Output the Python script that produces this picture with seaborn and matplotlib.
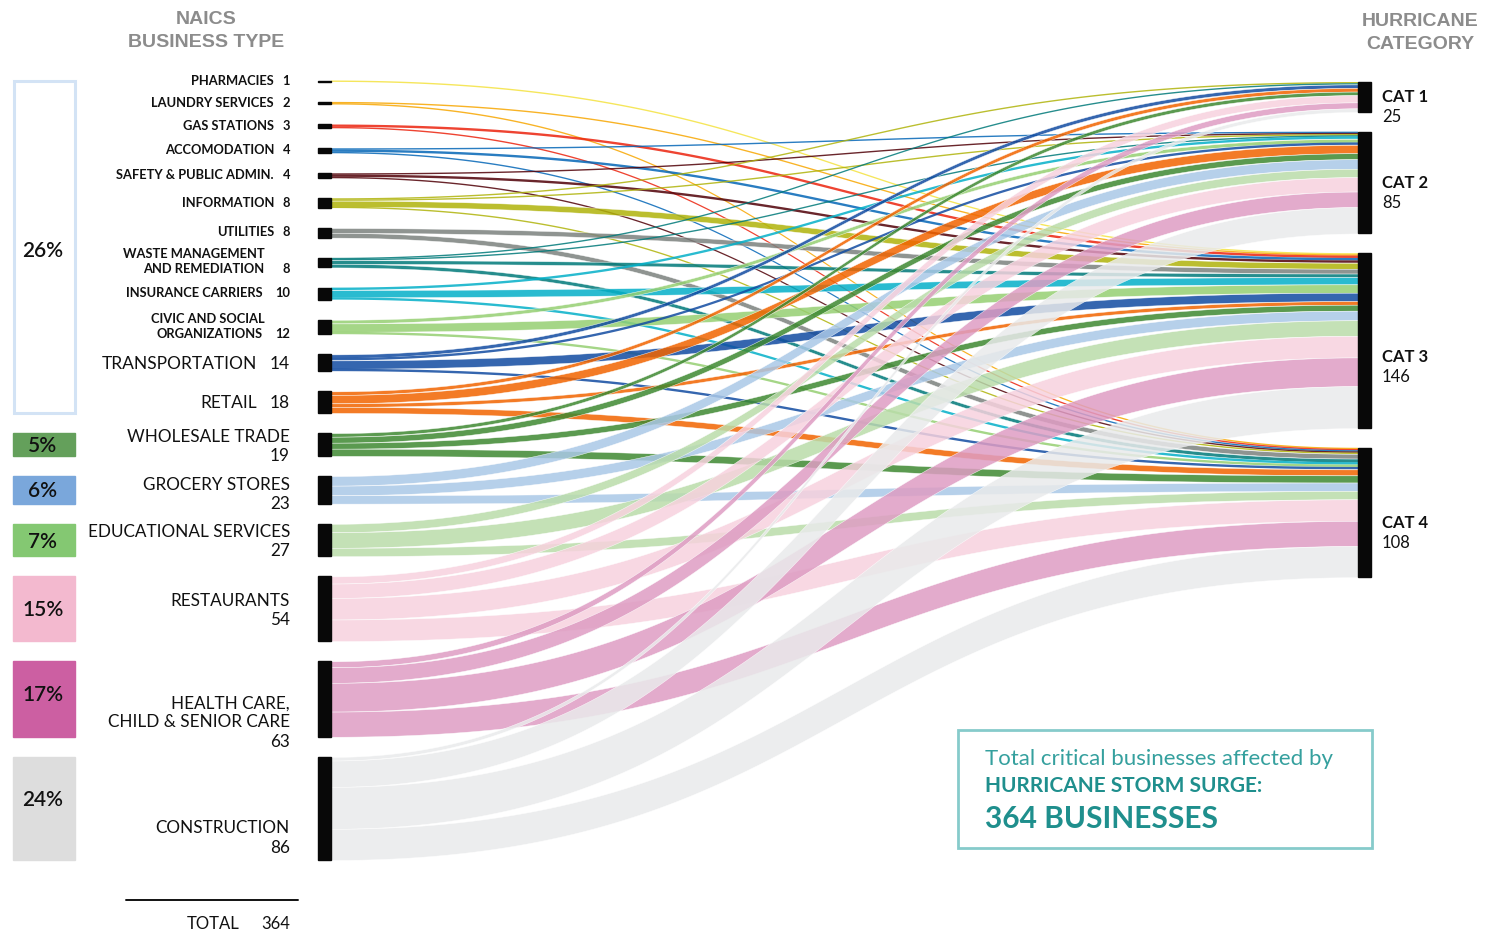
import numpy as np
import pandas as pd
import matplotlib
matplotlib.use("Agg")
import matplotlib.pyplot as plt
import seaborn as sns
from matplotlib.patches import Rectangle

# ---------------- data ----------------
business = ["PHARMACIES", "LAUNDRY SERVICES", "GAS STATIONS", "ACCOMODATION",
            "SAFETY & PUBLIC ADMIN.", "INFORMATION", "UTILITIES",
            "WASTE MANAGEMENT\nAND REMEDIATION", "INSURANCE CARRIERS",
            "CIVIC AND SOCIAL\nORGANIZATIONS", "TRANSPORTATION", "RETAIL",
            "WHOLESALE TRADE", "GROCERY STORES", "EDUCATIONAL SERVICES",
            "RESTAURANTS", "HEALTH CARE,\nCHILD & SENIOR CARE", "CONSTRUCTION"]
categories = ["CAT 1", "CAT 2", "CAT 3", "CAT 4"]
to_cat1 = [0, 0, 0, 0, 0, 1, 0, 1, 0, 0, 3, 3, 3, 0, 0, 6, 5, 3]
to_cat2 = [0, 0, 0, 1, 1, 1, 0, 1, 2, 3, 2, 7, 5, 8, 7, 12, 13, 22]
to_cat3 = [1, 1, 2, 2, 2, 5, 4, 3, 6, 7, 7, 3, 5, 8, 13, 18, 24, 35]
to_cat4 = [0, 1, 1, 1, 1, 1, 4, 3, 2, 2, 2, 5, 6, 7, 7, 18, 21, 26]
flow_colors = ["#F6E65C", "#F8B322", "#EE4432", "#2A7DC2", "#6A1A2C", "#BBBE2F",
               "#8F9491", "#1C8D8D", "#2ABCD0", "#A5D687", "#3566AF", "#F37B21",
               "#5B9B50", "#B7D0EB", "#C4E1B7", "#F8D9E3", "#E3ACCC", "#ECEDEE"]
pct_labels = ["26%", "5%", "6%", "7%", "15%", "17%", "24%"]
pct_groups = [(0, 11), (12, 12), (13, 13), (14, 14), (15, 15), (16, 16), (17, 17)]
pct_fill = [None, "#64A05B", "#7AA7DB", "#84C872", "#F3B9CF", "#CC5FA2", "#DDDDDD"]
total_label = "364"

# ---------------- setup ----------------
sns.set_theme(style="white")
plt.rcParams['font.family'] = ['Lato', 'DejaVu Sans']

df = pd.DataFrame({"business": business, "CAT 1": to_cat1, "CAT 2": to_cat2,
                   "CAT 3": to_cat3, "CAT 4": to_cat4})
values = df[categories].to_numpy()
totals = values.sum(axis=1)
cat_totals = values.sum(axis=0)
palette = sns.color_palette(flow_colors)

fig = plt.figure(figsize=(14.99, 9.32), dpi=100)
ax = fig.add_axes([0, 0, 1, 1])
ax.set_xlim(0, 1499)
ax.set_ylim(932, 0)
ax.axis('off')

S = 1.198
LX0, LX1 = 318, 331
RX0, RX1 = 1358, 1371
left_top = 80.5 + np.concatenate([[0], np.cumsum(totals[:-1] * S + 20.2)])
right_top = 82 + np.concatenate([[0], np.cumsum(cat_totals[:-1] * S + 19.7)])

ALPHA = 0.85


def base_color(c):
    c = np.array(c)
    return tuple(np.clip(1 - (1 - c) / ALPHA, 0, 1))


t = np.linspace(0, 1, 200)
xf = LX1 + (RX0 - LX1) * (1.5 * t * (1 - t) + t ** 3)
yfrac = 3 * t ** 2 - 2 * t ** 3

left_cur = left_top.copy()
right_cur = right_top.copy()
for i in range(len(business)):
    for j in range(len(categories)):
        v = values[i, j]
        if v == 0:
            continue
        h = v * S
        y0 = left_cur[i]
        left_cur[i] += h
        y1 = right_cur[j]
        right_cur[j] += h
        top = y0 + (y1 - y0) * yfrac
        hh = max(h, 1.4)
        ax.fill_between(xf, top, top + hh, color=base_color(palette[i]), alpha=ALPHA,
                        edgecolor='white' if v >= 3 else 'none',
                        linewidth=0.35 if v >= 3 else 0, zorder=2)

# nodes
for i in range(len(business)):
    h = max(totals[i] * S, 1.8)
    ax.add_patch(Rectangle((LX0, left_top[i]), LX1 - LX0, h, color='#080808', zorder=3))
for j in range(len(categories)):
    ax.add_patch(Rectangle((RX0, right_top[j]), RX1 - RX0, cat_totals[j] * S,
                           color='#080808', zorder=3))


def txt(x, yc, s, size, ha='right', weight='normal', color='#111111', family=None):
    kw = {}
    if family is not None:
        kw['family'] = family
    ax.text(x, yc + 0.36 * size * 100 / 72, s, fontsize=size, ha=ha, va='baseline',
            fontweight=weight, color=color, **kw)


# left labels
two_line_ends = {7: (265, 264), 9: (265, 263)}
for i, name in enumerate(business):
    c = left_top[i] + totals[i] * S / 2
    val = str(totals[i])
    if i <= 9:
        size = 9.3
        lines = name.split("\n")
        nx = 290 - (16 if len(val) == 1 else 27)
        if len(lines) == 1:
            txt(nx, c - 1, name, size, weight='bold')
            txt(290, c - 1, val, size, weight='bold')
        else:
            e1, e2 = two_line_ends[i]
            txt(e1, c - 9, lines[0], size, weight='bold')
            txt(e2, c + 6, lines[1], size, weight='bold')
            txt(290, c + 6, val, size, weight='bold')
    elif i <= 11:
        txt(257, c, name, 12.5)
        txt(290, c, val, 12.5)
    else:
        lines = name.split("\n") + [val]
        if i == 16:
            ys = [c + 3, c + 22, c + 42]
        elif i == 17:
            ys = [c + 18, c + 38]
        else:
            ys = [c - 9, c + 10]
            if i == 13:
                ys = [c - 6, c + 13]
        for s_, y_ in zip(lines, ys):
            txt(290, y_, s_, 12.3)

# percentage boxes
pct_text_dy = [3, 0, 0, 0, 0, -6, -10]
for k, (a, b) in enumerate(pct_groups):
    top = left_top[a]
    bot = left_top[b] + totals[b] * S
    if pct_fill[k] is None:
        ax.add_patch(Rectangle((14, top), 61, bot - top, fill=False,
                               edgecolor='#D3E3F5', linewidth=2.2, zorder=3))
    else:
        ax.add_patch(Rectangle((13, top), 62, bot - top, color=pct_fill[k], zorder=3))
    txt(43, (top + bot) / 2 + pct_text_dy[k], pct_labels[k], 15, ha='center', weight='semibold')

# right labels
cat_dy = [-1, -1, 15, 10]
for j, cat in enumerate(categories):
    c = right_top[j] + cat_totals[j] * S / 2 + cat_dy[j]
    txt(1382, c, cat, 12, ha='left', weight='bold')
    txt(1382, c + 20, str(cat_totals[j]), 12, ha='left')

# headers
hdr = dict(ha='center', weight='bold', color='#8C8C8C', family='Liberation Sans')
txt(206, 17, "NAICS", 14, **hdr)
txt(206, 40, "BUSINESS TYPE", 14, **hdr)
txt(1420, 19, "HURRICANE", 14, **hdr)
txt(1420, 42, "CATEGORY", 14, **hdr)

# total
ax.plot([126, 298], [900, 900], color='#111111', lw=1.4)
txt(213, 923, "TOTAL", 12, ha='center')
txt(290, 923, total_label, 12)

# info box
ax.add_patch(Rectangle((958, 730), 414, 118, fill=False, edgecolor='#86CBCB', linewidth=2))
txt(985, 757, "Total critical businesses affected by", 16, ha='left', weight='normal', color='#35A09E')
txt(985, 784, "HURRICANE STORM SURGE:", 15, ha='left', weight='bold', color='#1F8F8D')
txt(985, 817, "364 BUSINESSES", 21.5, ha='left', weight='bold', color='#1F8F8D')

fig.savefig("out.png", dpi=100)
